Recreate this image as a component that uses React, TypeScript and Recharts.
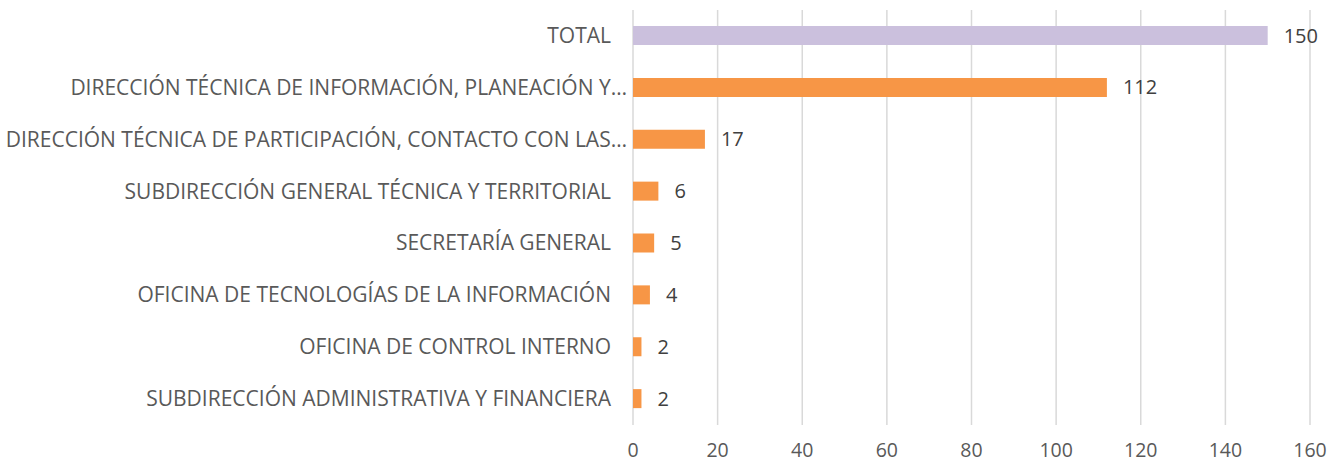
import { BarChart, Bar, XAxis, YAxis, CartesianGrid, Cell, LabelList } from 'recharts'

const categories = [
  'TOTAL',
  'DIRECCIÓN TÉCNICA DE INFORMACIÓN, PLANEACIÓN Y…',
  'DIRECCIÓN TÉCNICA DE PARTICIPACIÓN, CONTACTO CON LAS…',
  'SUBDIRECCIÓN GENERAL TÉCNICA Y TERRITORIAL',
  'SECRETARÍA GENERAL',
  'OFICINA DE TECNOLOGÍAS DE LA INFORMACIÓN',
  'OFICINA DE CONTROL INTERNO',
  'SUBDIRECCIÓN ADMINISTRATIVA Y FINANCIERA',
]
const values = [150, 112, 17, 6, 5, 4, 2, 2]
const xTicks = [0, 20, 40, 60, 80, 100, 120, 140, 160]

const data = categories.map((name, i) => ({ name, value: values[i] }))

const FONT = "'Open Sans', sans-serif"

function CategoryTick(props: any) {
  const { x, y, payload } = props
  const truncated = String(payload.value).endsWith('…')
  return (
    <text
      x={truncated ? x + 16 : x}
      y={y}
      dy={7}
      textAnchor="end"
      fill="#595959"
      fontSize={21}
      fontFamily={FONT}
    >
      {payload.value}
    </text>
  )
}

export default function App() {
  return (
    <div style={{ position: 'absolute', left: 0, top: 0, background: '#fff' }}>
      <BarChart
        width={1331}
        height={465}
        data={data}
        layout="vertical"
        margin={{ top: 10, right: 21, bottom: 0, left: 0 }}
        barSize={19}
      >
        <CartesianGrid horizontal={false} stroke="#d9d9d9" strokeWidth={1.5} />
        <XAxis
          type="number"
          domain={[0, 160]}
          ticks={xTicks}
          axisLine={false}
          tickLine={false}
          height={40}
          tick={{ fill: '#595959', fontSize: 19.5, fontFamily: FONT }}
          tickMargin={12}
          interval={0}
        />
        <YAxis
          type="category"
          dataKey="name"
          width={633}
          axisLine={false}
          tickLine={false}
          tick={<CategoryTick />}
          tickMargin={16}
          interval={0}
        />
        <Bar dataKey="value" isAnimationActive={false}>
          {data.map((d, i) => (
            <Cell key={d.name} fill={i === 0 ? '#cbc0dd' : '#f79646'} />
          ))}
          <LabelList
            dataKey="value"
            position="right"
            offset={16}
            fill="#404040"
            fontSize={20}
            fontFamily={FONT}
          />
        </Bar>
      </BarChart>
    </div>
  )
}
